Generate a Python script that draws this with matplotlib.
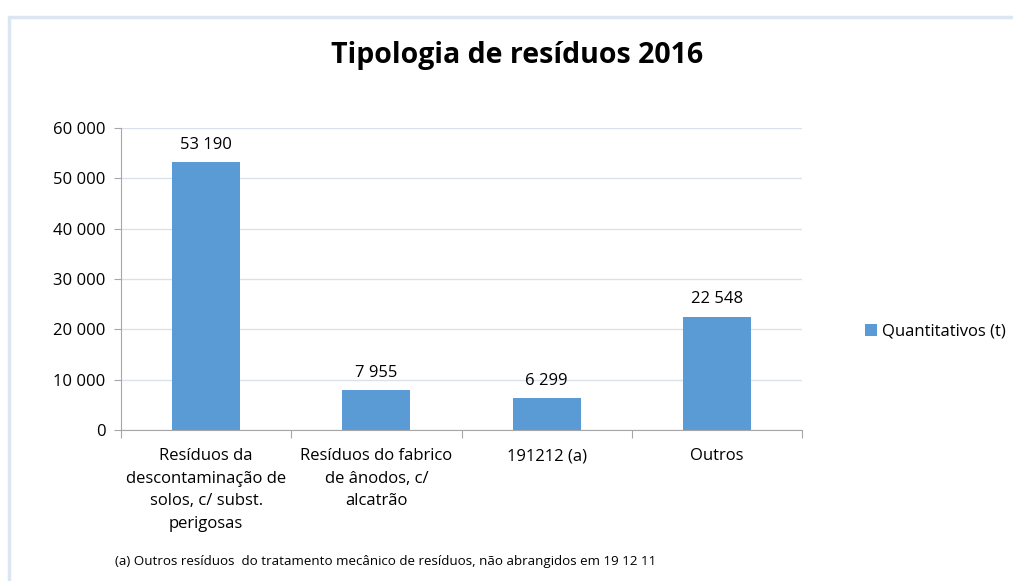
import matplotlib.pyplot as plt
from matplotlib.patches import Rectangle
from matplotlib.ticker import FuncFormatter, FixedLocator, NullFormatter
import numpy as np

plt.rcParams["font.family"] = ["Open Sans", "DejaVu Sans"]

categories = ["Resíduos da\ndescontaminação de\nsolos, c/ subst.\nperigosas",
              "Resíduos do fabrico\nde ânodos, c/\nalcatrão",
              "191212 (a)",
              "Outros"]
values = [53190, 7955, 6299, 22548]
series_name = "Quantitativos (t)"
title = "Tipologia de resíduos 2016"
footnote = "(a) Outros resíduos  do tratamento mecânico de resíduos, não abrangidos em 19 12 11"

BAR_COLOR = "#5B9BD5"
GRID_COLOR = "#D9E1EC"
AXIS_COLOR = "#A6A6A6"
FS = 12


def thousands(v, pos=None):
    return f"{int(v):,}".replace(",", " ")


fig = plt.figure(figsize=(10.13, 5.81), dpi=100)
fig.patches.append(Rectangle((9 / 1013, -0.1), 1.2, 1 - 17 / 581 + 0.1,
                             transform=fig.transFigure, fill=False,
                             edgecolor="#DCE6F2", lw=2.5))
ax = fig.add_axes([121 / 1013, 151 / 581, 681 / 1013, 302 / 581])

x = np.arange(len(values))
bars = ax.bar(x, values, width=0.4, color=BAR_COLOR, label=series_name)
for xi, v in zip(x, values):
    ax.text(xi, v + 1800, thousands(v), ha="center", va="bottom", fontsize=FS)

ax.set_xlim(-0.5, len(values) - 0.5)
ax.set_ylim(0, 60000)
ax.set_yticks(np.arange(0, 60001, 10000))
ax.yaxis.set_major_formatter(FuncFormatter(thousands))
ax.yaxis.grid(True, color=GRID_COLOR, lw=1)
ax.set_axisbelow(True)

ax.xaxis.set_major_locator(FixedLocator(np.arange(-0.5, len(values), 1.0)))
ax.xaxis.set_major_formatter(NullFormatter())
ax.xaxis.set_minor_locator(FixedLocator(x))
labels = ax.set_xticklabels(categories, minor=True)
for lab in labels:
    lab.set_linespacing(1.55)
ax.tick_params(axis="x", which="minor", length=0, pad=13, labelsize=FS)
ax.tick_params(axis="x", which="major", length=6, color=AXIS_COLOR)
ax.tick_params(axis="y", length=5, color=AXIS_COLOR, labelsize=FS, pad=6)

for side in ["top", "right"]:
    ax.spines[side].set_visible(False)
for side in ["left", "bottom"]:
    ax.spines[side].set_color(AXIS_COLOR)

fig.text(517 / 1013, 1 - 55 / 581, title, ha="center", va="center",
         fontsize=20.5, fontweight="bold")
fig.text(115 / 1013, 1 - 561 / 581, footnote, ha="left", va="center",
         fontsize=9.6)
fig.legend(handles=[bars], loc="center left", bbox_to_anchor=(865 / 1013, 1 - 332 / 581),
           frameon=False, fontsize=FS, handlelength=0.7, handleheight=0.7,
           handletextpad=0.3, borderpad=0, borderaxespad=0)

fig.savefig("out.png", dpi=100)
